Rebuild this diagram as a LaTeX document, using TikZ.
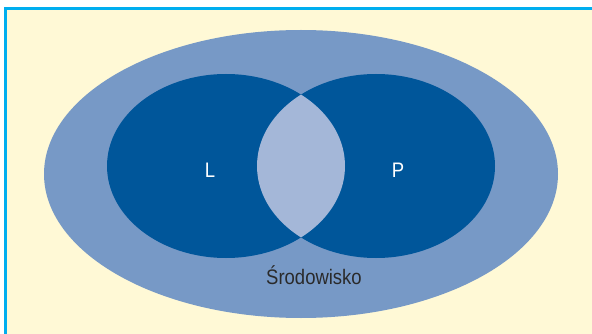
\documentclass[tikz,border=0pt]{standalone}
\usepackage{fontspec}
\setmainfont[FakeStretch=0.88]{Liberation Sans}
\definecolor{bgyellow}{HTML}{FFF9D6}
\definecolor{framecyan}{HTML}{00AEEF}
\definecolor{envblue}{HTML}{7799C6}
\definecolor{darkblue}{HTML}{00569A}
\definecolor{lensblue}{HTML}{A4B7D8}
\definecolor{textdark}{HTML}{2A2A2A}
\begin{document}
\begin{tikzpicture}[x=1pt,y=-1pt,
  lbl/.style={font=\fontsize{21}{23}\selectfont, inner sep=0pt, anchor=base}]
\useasboundingbox (0,0) rectangle (592,334);
\fill[white] (0,0) rectangle (592,334);
\fill[bgyellow] (5.5,8.5) rectangle (600,340);
\draw[framecyan, line width=3pt] (5.5,340) -- (5.5,8.5) -- (600,8.5);
% environment
\fill[envblue] (301,174) ellipse [x radius=257, y radius=144];
% L and P
\fill[darkblue] (226,166) ellipse [x radius=119, y radius=92];
\fill[darkblue] (376,166) ellipse [x radius=119, y radius=92];
\begin{scope}
  \clip (226,166) ellipse [x radius=119, y radius=92];
  \fill[lensblue] (376,166) ellipse [x radius=119, y radius=92];
\end{scope}
\node[lbl, white] (l) at (210,178) {L};
\node[lbl, white] (p) at (398,178) {P};
\node[lbl, textdark] (s) at (314,284.5) {Środowisko};
\end{tikzpicture}
\end{document}
